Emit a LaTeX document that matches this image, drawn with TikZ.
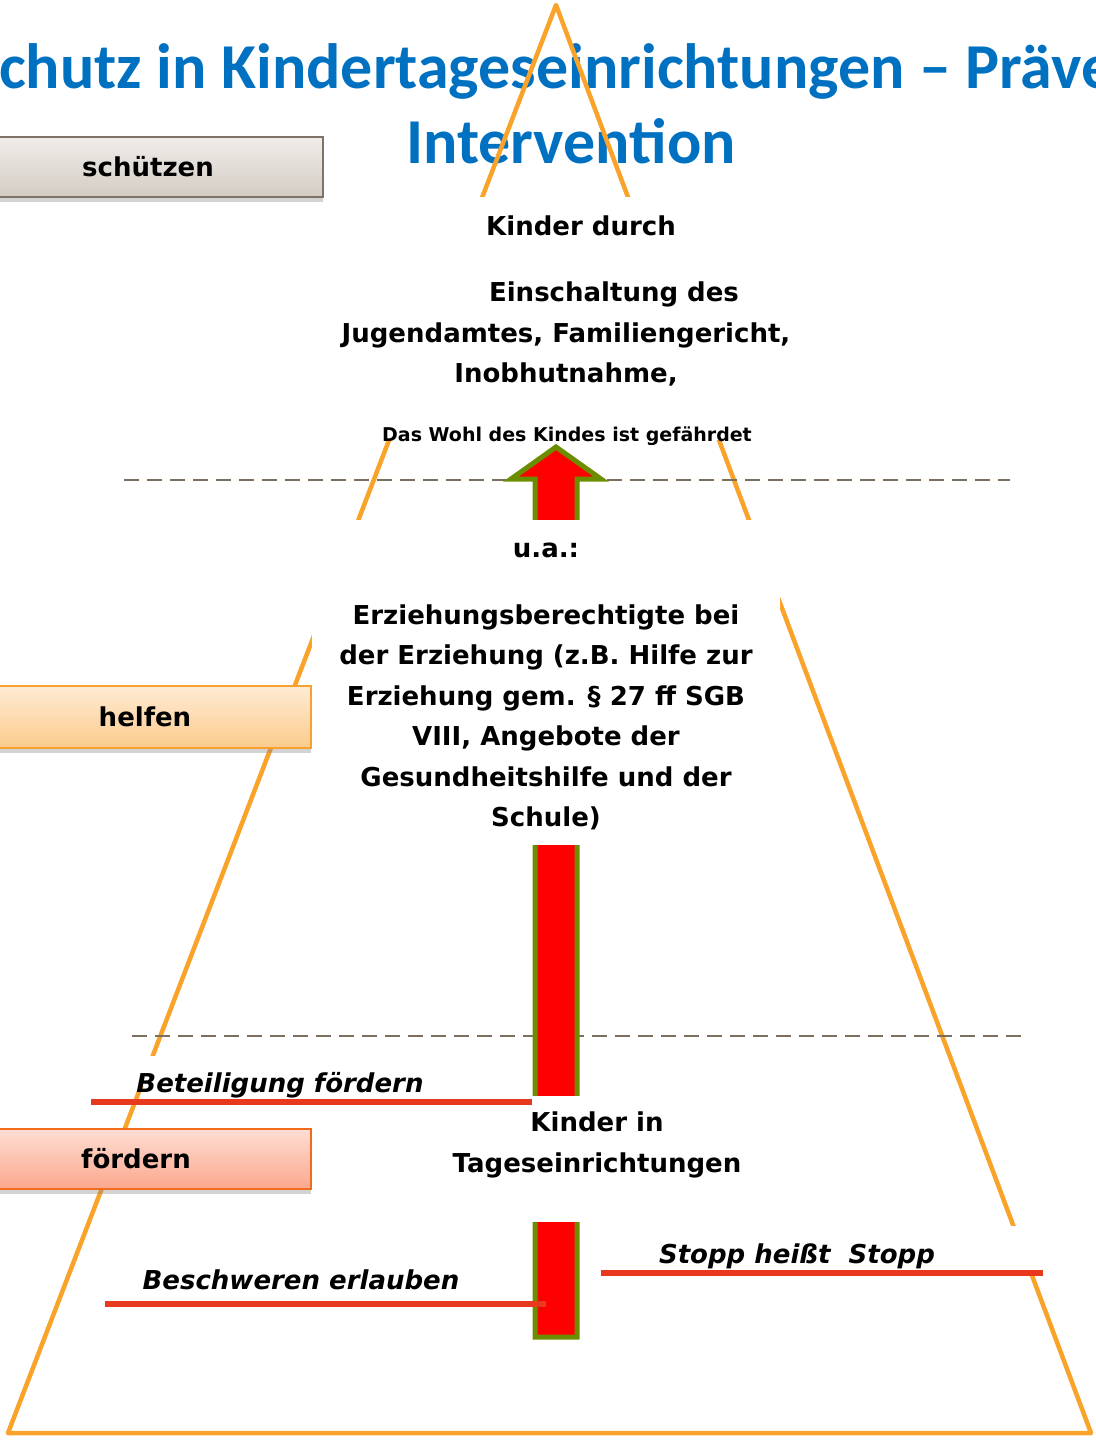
\documentclass[tikz,border=0pt]{standalone}
\usepackage{fontspec}
\setmainfont{DejaVu Sans}
\newfontfamily\titlefont{Carlito}
\usetikzlibrary{shadows}
\definecolor{tri}{HTML}{F9A32B}
\definecolor{titleblue}{HTML}{0070C0}
\definecolor{dashgray}{HTML}{7B6F60}
\definecolor{arrowgreen}{HTML}{6B8E00}
\definecolor{redline}{HTML}{E8391F}
\definecolor{grayborder}{HTML}{7F7266}
\definecolor{graytop}{HTML}{F0EDE9}
\definecolor{graybot}{HTML}{D3CCC4}
\definecolor{orborder}{HTML}{F8A030}
\definecolor{ortop}{HTML}{FEEBD4}
\definecolor{orbot}{HTML}{FBCB8C}
\definecolor{rdborder}{HTML}{F26B1D}
\definecolor{rdtop}{HTML}{FEDDD3}
\definecolor{rdbot}{HTML}{FBA78D}
\tikzset{
  triline/.style={draw=tri, line width=4.5pt, line join=round},
  dashline/.style={draw=dashgray, line width=2pt, dash pattern=on 15pt off 8pt},
  occluder/.style={fill=white},
  redbar/.style={draw=redline, line width=6pt},
  body/.style={font=\fontsize{26}{40.5}\selectfont\bfseries, align=center, inner sep=0pt},
  small/.style={font=\fontsize{19}{23}\selectfont\bfseries, inner sep=0pt},
  slant/.style={font=\fontsize{26}{30}\selectfont\bfseries\itshape, inner sep=0pt},
  titletext/.style={font=\fontsize{64}{76}\selectfont\titlefont\bfseries, text=titleblue, inner sep=0pt},
  labelbox/.style={font=\fontsize{26}{30}\selectfont\bfseries, inner sep=0pt,
    drop shadow={shadow xshift=0pt, shadow yshift=-5pt, opacity=0.35}},
}
\begin{document}
\begin{tikzpicture}[x=1pt,y=-1pt]
\useasboundingbox (0,0) rectangle (1095,1440);
\clip (0,0) rectangle (1095,1440);
% title
\node[titletext, anchor=base west] (title1) at (-1,88) {chutz in Kindertageseinrichtungen – Präve};
\node[titletext, anchor=base] (title2) at (571,163) {Intervention};
% pyramid
\draw[triline] (556,5) -- (1091,1433) -- (8,1433) -- cycle;
% dashed separators
\draw[dashline] (124,480) -- (1010,480);
\draw[dashline] (132,1036) -- (1025,1036);
% arrow
\draw[fill=red, draw=arrowgreen, line width=5pt, line join=miter]
  (556,447) -- (601,479) -- (577,479) -- (577,1337) -- (535,1337) -- (535,479) -- (511,479) -- cycle;
% white text backgrounds
\fill[occluder] (312,197) rectangle (800,440);
\fill[occluder] (312,520) rectangle (780,845);
\fill[occluder] (440,1096) rectangle (760,1222);
\fill[occluder] (640,1226) rectangle (1045,1270);
\fill[occluder] (134,1056) rectangle (430,1086);
% left label boxes
\node[labelbox, draw=grayborder, line width=1.5pt, top color=graytop, bottom color=graybot,
  minimum width=350pt, minimum height=60pt] (schuetzen) at (148,167) {schützen};
\node[labelbox, draw=orborder, line width=2pt, top color=ortop, bottom color=orbot,
  minimum width=332pt, minimum height=62pt] (helfen) at (145,717) {helfen};
\node[labelbox, draw=rdborder, line width=2pt, top color=rdtop, bottom color=rdbot,
  minimum width=350pt, minimum height=60pt] (foerdern) at (136,1159) {fördern};
% red underlines
\draw[redbar] (91,1102) -- (532,1102);
\draw[redbar] (105,1304) -- (546,1304);
\draw[redbar] (601,1273) -- (1043,1273);
% texts
\node[body] (t1) at (581,226) {Kinder durch};
\node[body] (t2) at (614,294) {Einschaltung des};
\node[body] (t3) at (566,354.5) {Jugendamtes, Familiengericht,\\Inobhutnahme,};
\node[small] (t4) at (567,436) {Das Wohl des Kindes ist gefährdet};
\node[body] (t5) at (546,550) {u.a.:};
\node[body] (t6) at (546,717.5) {Erziehungsberechtigte bei\\der Erziehung (z.B. Hilfe zur\\Erziehung gem. \S\ 27 ff SGB\\VIII, Angebote der\\Gesundheitshilfe und der\\Schule)};
\node[body] (t7) at (597,1145) {Kinder in\\Tageseinrichtungen};
\node[slant] (t8) at (280,1085) {Beteiligung fördern};
\node[slant] (t9) at (301,1280) {Beschweren erlauben};
\node[slant] (t10) at (797,1256) {Stopp heißt\ \ Stopp};
\end{tikzpicture}
\end{document}
